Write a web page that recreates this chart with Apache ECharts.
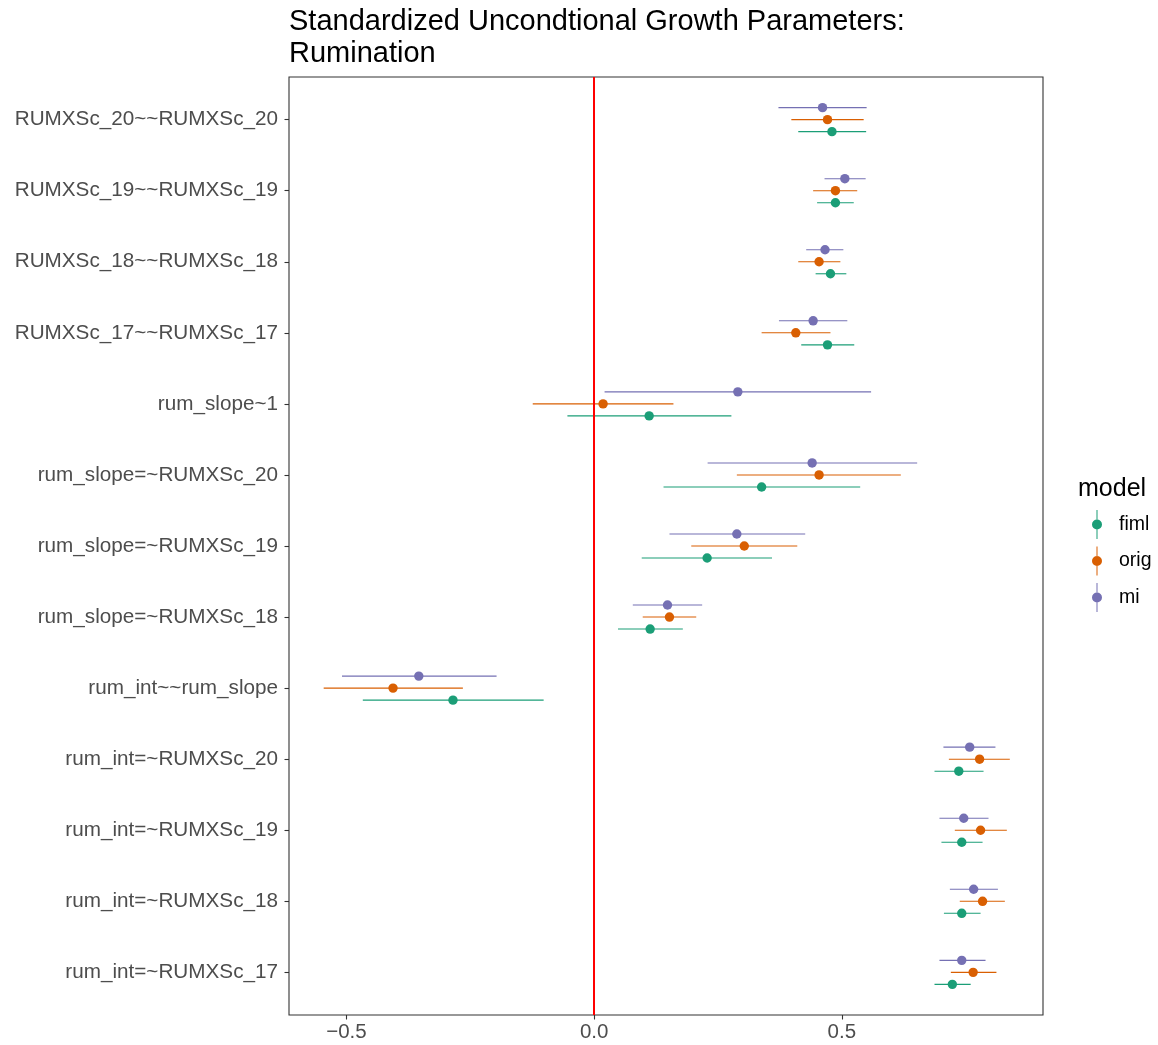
<!DOCTYPE html>
<html>
<head>
<meta charset="utf-8">
<script src="https://cdn.jsdelivr.net/npm/echarts@6/dist/echarts.min.js"></script>
<style>
  html, body { margin: 0; padding: 0; background: #fff; }
  #chart { width: 1158px; height: 1045px; }
</style>
</head>
<body>
<div id="chart"></div>
<script>
// Parameters, top to bottom
const categories = [
  'RUMXSc_20~~RUMXSc_20',
  'RUMXSc_19~~RUMXSc_19',
  'RUMXSc_18~~RUMXSc_18',
  'RUMXSc_17~~RUMXSc_17',
  'rum_slope~1',
  'rum_slope=~RUMXSc_20',
  'rum_slope=~RUMXSc_19',
  'rum_slope=~RUMXSc_18',
  'rum_int~~rum_slope',
  'rum_int=~RUMXSc_20',
  'rum_int=~RUMXSc_19',
  'rum_int=~RUMXSc_18',
  'rum_int=~RUMXSc_17'
];

// Standardized estimates with lower / upper bounds, one set per model
const fimlEst = [0.480, 0.487, 0.477, 0.471, 0.111, 0.338, 0.228, 0.113, -0.285, 0.736, 0.742, 0.742, 0.723];
const fimlLo  = [0.412, 0.450, 0.447, 0.418, -0.054, 0.140, 0.096, 0.048, -0.467, 0.687, 0.701, 0.706, 0.687];
const fimlHi  = [0.549, 0.524, 0.509, 0.525, 0.277, 0.537, 0.359, 0.179, -0.102, 0.786, 0.784, 0.780, 0.760];

const origEst = [0.471, 0.487, 0.454, 0.407, 0.018, 0.454, 0.303, 0.152, -0.406, 0.778, 0.780, 0.784, 0.765];
const origLo  = [0.398, 0.442, 0.412, 0.338, -0.124, 0.288, 0.196, 0.098, -0.546, 0.716, 0.728, 0.738, 0.720];
const origHi  = [0.544, 0.531, 0.497, 0.477, 0.160, 0.619, 0.410, 0.206, -0.265, 0.839, 0.833, 0.829, 0.812];

const miEst = [0.461, 0.506, 0.466, 0.442, 0.290, 0.440, 0.288, 0.148, -0.354, 0.758, 0.746, 0.766, 0.742];
const miLo  = [0.372, 0.465, 0.428, 0.373, 0.021, 0.229, 0.152, 0.078, -0.509, 0.705, 0.697, 0.718, 0.697];
const miHi  = [0.550, 0.548, 0.503, 0.511, 0.559, 0.652, 0.426, 0.218, -0.197, 0.810, 0.796, 0.815, 0.790];

const xTicks = [-0.5, 0, 0.5];

const FONT = '"Liberation Sans", Arial, Helvetica, sans-serif';
const colors = { fiml: '#1B9E77', orig: '#D95F02', mi: '#7570B3' };

function rows(est, lo, hi) {
  return categories.map((c, i) => [i, est[i], lo[i], hi[i]]);
}

// point + horizontal range, shifted within the row (dodge)
function pointRange(offset, color) {
  return function (params, api) {
    const y = api.value(0) + offset;
    const a = api.coord([api.value(2), y]);
    const b = api.coord([api.value(3), y]);
    const c = api.coord([api.value(1), y]);
    return {
      type: 'group',
      children: [
        { type: 'line', shape: { x1: a[0], y1: a[1], x2: b[0], y2: b[1] },
          style: { stroke: color, lineWidth: 1.1 } },
        { type: 'circle', shape: { cx: c[0], cy: c[1], r: 4.7 },
          style: { fill: color } }
      ]
    };
  };
}

function fmt(v) {
  if (Math.abs(v) < 1e-9) return '0.0';
  return (v < 0 ? '\u2212' : '') + Math.abs(v).toFixed(1);
}

const legendIcon = 'path://M4.5,0 L5.5,0 L5.5,10 L4.5,10 Z M0,14.5 A5,5 0 1,1 10,14.5 A5,5 0 1,1 0,14.5 Z M4.5,19 L5.5,19 L5.5,29 L4.5,29 Z';

const chart = echarts.init(document.getElementById('chart'), null, { renderer: 'canvas' });

chart.setOption({
  backgroundColor: '#ffffff',
  animation: false,
  title: [
    {
      text: 'Standardized Uncondtional Growth Parameters:\nRumination',
      left: 289, top: 6, padding: 0,
      textStyle: { fontFamily: FONT, fontSize: 29, fontWeight: 'normal', color: '#000', lineHeight: 32 }
    },
    {
      text: 'model',
      left: 1078, top: 477, padding: 0,
      textStyle: { fontFamily: FONT, fontSize: 25, fontWeight: 'normal', color: '#000' }
    }
  ],
  legend: {
    data: ['fiml', 'orig', 'mi'],
    orient: 'vertical',
    left: 1092, top: 510, padding: 0,
    itemWidth: 10, itemHeight: 29, itemGap: 7.5,
    icon: legendIcon,
    textStyle: { fontFamily: FONT, fontSize: 19.5, color: '#000', padding: [0, 0, 0, 12] },
    selectedMode: false
  },
  grid: {
    left: 289, top: 77, right: 1158 - 1043, bottom: 1045 - 1015,
    show: true, borderColor: '#333333', borderWidth: 1.1, backgroundColor: '#fff'
  },
  xAxis: {
    type: 'value',
    min: -0.616, max: 0.906,
    axisLine: { show: false, onZero: false },
    splitLine: { show: false },
    axisTick: { show: true, length: 4.5, lineStyle: { color: '#333333', width: 1.1 }, customValues: xTicks },
    axisLabel: { fontFamily: FONT, fontSize: 20.5, color: '#4D4D4D', margin: 7, customValues: xTicks, formatter: fmt }
  },
  yAxis: {
    type: 'value',
    inverse: true,
    min: -0.6, max: 12.6,
    axisLine: { show: false, onZero: false },
    splitLine: { show: false },
    axisTick: { show: true, length: 4.5, lineStyle: { color: '#333333', width: 1.1 },
                customValues: categories.map((c, i) => i) },
    axisLabel: { fontFamily: FONT, fontSize: 20.7, color: '#4D4D4D', margin: 11,
                 customValues: categories.map((c, i) => i),
                 formatter: v => categories[Math.round(v)] }
  },
  series: [
    {
      name: 'zero', type: 'line', data: [], z: 1, silent: true,
      markLine: {
        symbol: 'none', silent: true, label: { show: false },
        lineStyle: { color: '#FF0000', width: 2, type: 'solid' },
        data: [{ xAxis: 0 }]
      }
    },
    { name: 'mi', type: 'custom', z: 2, color: colors.mi, renderItem: pointRange(-0.169, colors.mi),
      encode: { x: [1, 2, 3], y: 0 }, data: rows(miEst, miLo, miHi) },
    { name: 'orig', type: 'custom', z: 2, color: colors.orig, renderItem: pointRange(0, colors.orig),
      encode: { x: [1, 2, 3], y: 0 }, data: rows(origEst, origLo, origHi) },
    { name: 'fiml', type: 'custom', z: 2, color: colors.fiml, renderItem: pointRange(0.169, colors.fiml),
      encode: { x: [1, 2, 3], y: 0 }, data: rows(fimlEst, fimlLo, fimlHi) }
  ]
});
</script>
</body>
</html>
